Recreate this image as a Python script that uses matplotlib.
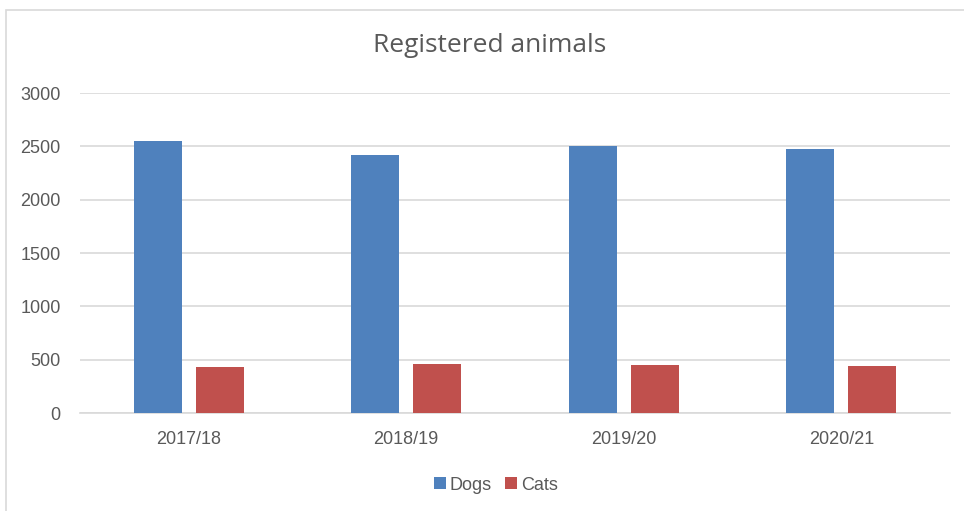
import matplotlib
matplotlib.use("Agg")
import matplotlib.pyplot as plt
import numpy as np
from matplotlib.patches import Rectangle

categories = ["2017/18", "2018/19", "2019/20", "2020/21"]
dogs = [2547, 2422, 2503, 2478]
cats = [430, 462, 452, 436]
yticks = [0, 500, 1000, 1500, 2000, 2500, 3000]

blue = "#4F81BD"
red = "#C0504D"
txt = "#595959"
grid = "#D9D9D9"
font = ["Liberation Sans", "DejaVu Sans"]

W, H = 964, 511
fig = plt.figure(figsize=(W / 100, H / 100), dpi=100)
fig.patch.set_facecolor("white")

# chart border (extends beyond right/bottom edges)
fig.patches.append(Rectangle((6 / W, -0.1), 1.2, 1 - 10 / H + 0.1,
                             transform=fig.transFigure, fill=False,
                             edgecolor="#D9D9D9", linewidth=1.2))

ax = fig.add_axes([80 / W, 1 - 413 / H, (950 - 80) / W, (413 - 93) / H])
x = np.arange(len(categories))
bw = 0.22
off = 0.143
ax.bar(x - off, dogs, bw, color=blue, label="Dogs", zorder=3)
ax.bar(x + off, cats, bw, color=red, label="Cats", zorder=3)

ax.set_xlim(-0.5, len(categories) - 0.5)
ax.set_ylim(0, 3000)
ax.set_yticks(yticks)
ax.set_yticklabels([str(v) for v in yticks], fontsize=13, color=txt, family=font)
ax.set_xticks(x)
ax.set_xticklabels(categories, fontsize=13, color=txt, family=font)
ax.tick_params(length=0)
ax.tick_params(axis="y", pad=14)
ax.tick_params(axis="x", pad=13)
ax.grid(axis="y", color=grid, linewidth=1.2, zorder=0)
for s in ["top", "right", "left"]:
    ax.spines[s].set_visible(False)
ax.spines["bottom"].set_color(grid)
ax.spines["bottom"].set_linewidth(1.2)

fig.text(490 / W, 1 - 46 / H, "Registered animals", ha="center", va="center",
         fontsize=19, color=txt, family=["Open Sans", "DejaVu Sans"])

leg = fig.legend(loc="center", bbox_to_anchor=(496 / W, 1 - 485 / H), ncol=2,
                 frameon=False, prop={"family": font, "size": 13},
                 handlelength=0.65, handleheight=0.65, handletextpad=0.2,
                 columnspacing=0.75)
for t in leg.get_texts():
    t.set_color(txt)

fig.savefig("out.png", dpi=100)
